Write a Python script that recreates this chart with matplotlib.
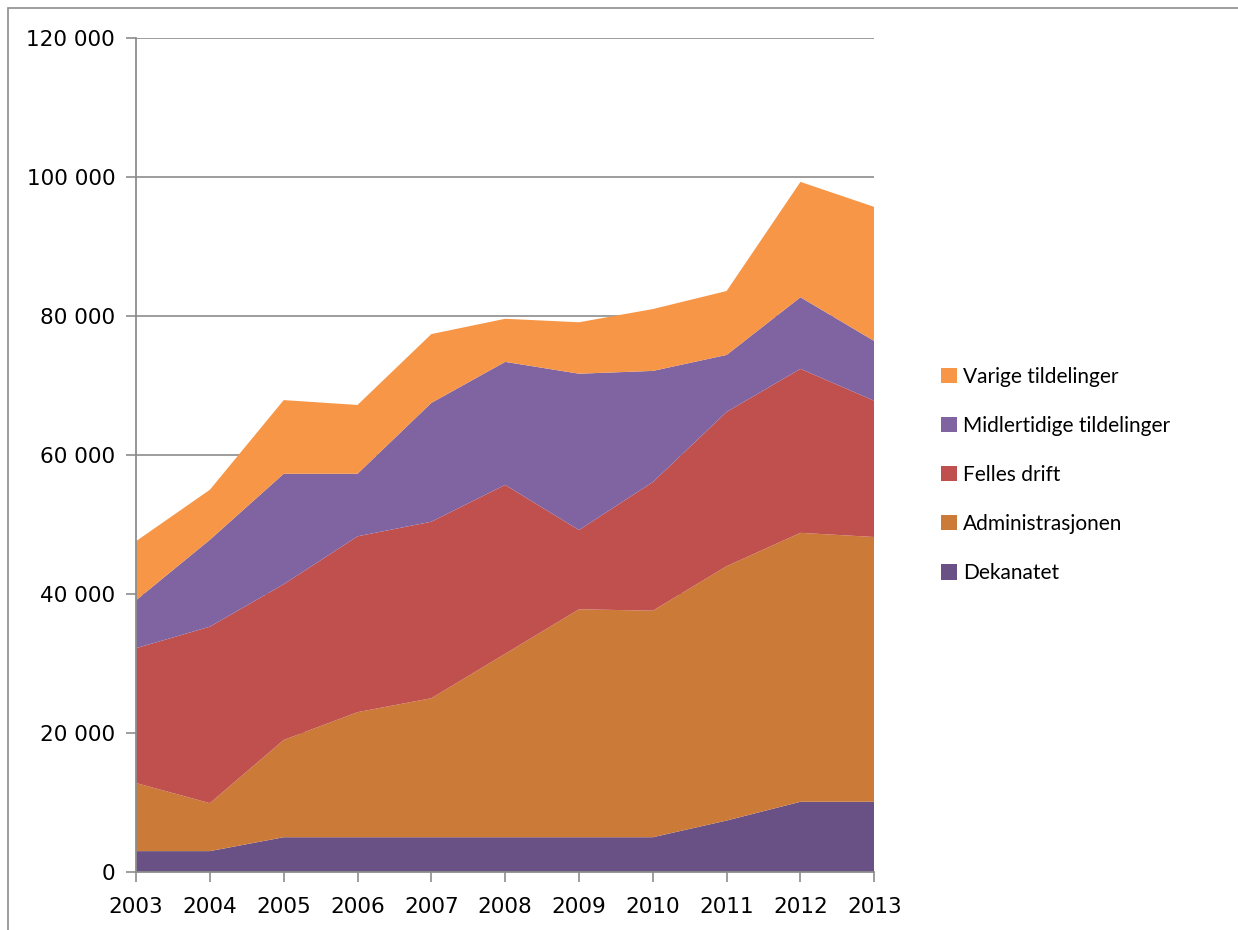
import matplotlib
matplotlib.use("Agg")
import matplotlib.pyplot as plt
import numpy as np
from matplotlib.patches import Rectangle, Patch
from matplotlib.ticker import FuncFormatter

# values (thousands of NOK, per layer)
years = [2003, 2004, 2005, 2006, 2007, 2008, 2009, 2010, 2011, 2012, 2013]
dekanatet = [3000, 3000, 5000, 5000, 5000, 5000, 5000, 5000, 7400, 10100, 10100]
administrasjonen = [9800, 6900, 14000, 18000, 20000, 26400, 32800, 32600, 36600, 38700, 38100]
felles_drift = [19400, 25400, 22400, 25300, 25400, 24300, 11400, 18500, 22200, 23600, 19600]
midlertidige = [6900, 12500, 15900, 9000, 17100, 17700, 22500, 16000, 8200, 10300, 8600]
varige = [8500, 7200, 10600, 9900, 9900, 6200, 7400, 8900, 9200, 16600, 19300]

labels = ["Dekanatet", "Administrasjonen", "Felles drift",
          "Midlertidige tildelinger", "Varige tildelinger"]
colors = ["#6A5185", "#CC7A38", "#C0504D", "#8064A2", "#F79646"]

fig = plt.figure(figsize=(12.38, 9.30), dpi=100)
ax = fig.add_axes([0.1099, 0.0624, 0.7062 - 0.1099, 0.9591 - 0.0624])

ax.stackplot(years, dekanatet, administrasjonen, felles_drift, midlertidige, varige,
             colors=colors, linewidth=0, zorder=2)

ax.set_xlim(2003, 2013)
ax.set_ylim(0, 120000)
ax.set_xticks(years)
ax.set_yticks(np.arange(0, 120001, 20000))
ax.yaxis.set_major_formatter(FuncFormatter(lambda v, p: f"{int(v):,}".replace(",", " ")))
ax.grid(axis="y", color="#8c8c8c", linewidth=1.2, zorder=1)
ax.set_axisbelow(True)

for s in ["top", "right"]:
    ax.spines[s].set_visible(False)
for s in ["left", "bottom"]:
    ax.spines[s].set_color("#8c8c8c")
    ax.spines[s].set_linewidth(1.3)
ax.tick_params(axis="both", direction="out", color="#8c8c8c", length=7, width=1.2,
               labelsize=15.5, labelcolor="black")
ax.tick_params(axis="y", pad=8)
ax.tick_params(axis="x", pad=11)

# outer chart-area border
fig.patches.append(Rectangle((8 / 1238, -0.05), 1.2, 1 - 8 / 930 + 0.05,
                             transform=fig.transFigure, fill=False,
                             edgecolor="#8c8c8c", linewidth=1.2))

handles = [Patch(facecolor=c, edgecolor="none") for c in colors[::-1]]
leg = fig.legend(handles, labels[::-1], loc="upper left",
                 bbox_to_anchor=(0.745, 0.626), frameon=False,
                 prop={"family": "Lato", "size": 15},
                 handlelength=0.75, handleheight=0.75, handletextpad=0.3,
                 labelspacing=1.4)

fig.savefig("out.png", dpi=100)
